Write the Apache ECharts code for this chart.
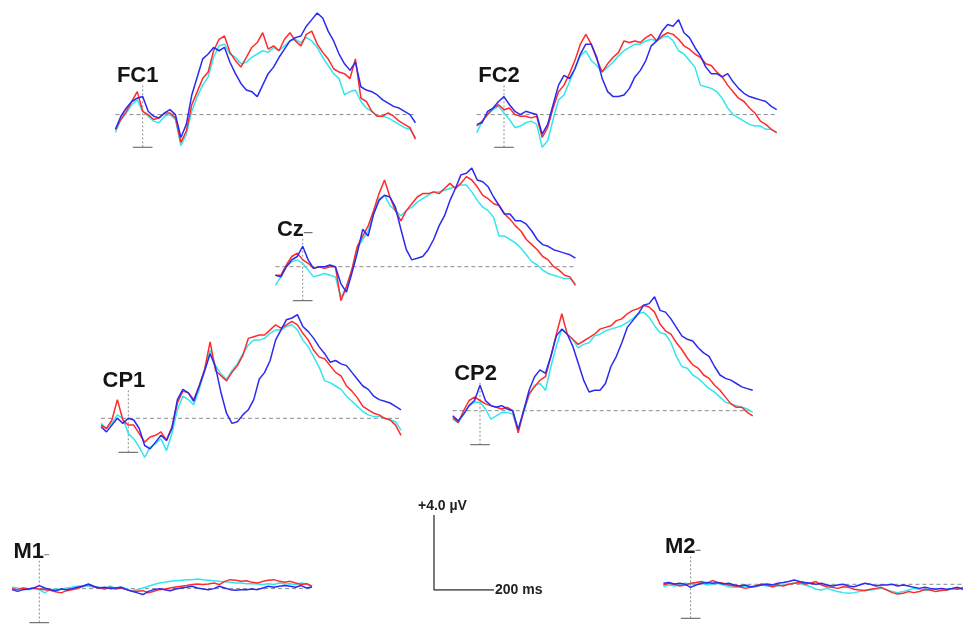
<!DOCTYPE html>
<html><head><meta charset="utf-8">
<script src="https://cdn.jsdelivr.net/npm/echarts@6/dist/echarts.min.js"></script>
<style>html,body{margin:0;padding:0;background:#fff}#c{width:963px;height:631px}</style>
</head><body><div id="c"></div>
<script>
// time points (ms)
const timesMs = [-100,-80,-60,-40,-20,0,20,40,60,80,100,120,140,160,180,200,220,240,260,280,300,320,340,360,380,400,420,440,460,480,500,520,540,560,580,600,620,640,660,680,700,720,740,760,780,800,820,840,860,880,900,920,940,960,980,1000];

// amplitudes (µV)
const fc1Red  = [-0.9,-0.3,0.2,0.8,1.4,0.2,0,-0.3,-0.2,0.1,0.1,-0.2,-1.7,-1.0,0.6,1.4,2.2,2.6,3.9,4.6,4.8,3.8,3.3,2.9,3.5,4.1,4.4,5.0,4.0,4.2,3.9,4.6,5.0,4.5,4.2,4.9,5.1,4.3,3.8,3.4,2.8,2.6,2.5,2.2,3.4,1.0,0.8,0.2,-0.1,-0.1,0.1,-0.1,-0.4,-0.6,-0.8,-1.5];
const fc1Cyan = [-1.1,-0.3,0.1,0.6,0.9,0.2,-0.1,-0.4,-0.5,-0.1,0,-0.3,-1.9,-1.2,0.2,1.1,1.8,2.3,3.5,4.2,4.3,3.7,3.5,3.1,3.2,3.5,3.7,3.9,3.8,4.1,3.9,4.2,4.5,4.6,4.4,4.7,4.5,4.1,3.5,3.0,2.5,2.2,1.2,1.4,1.5,0.8,0.4,0.2,-0.1,-0.1,-0.2,-0.4,-0.6,-0.8,-0.9,-1.4];
const fc1Blue = [-0.9,-0.1,0.4,0.8,1.0,1.1,0.2,-0.1,-0.2,0.1,0.3,0,-1.4,-0.6,1.2,2.3,3.4,3.7,4.1,3.9,4.1,3.2,2.5,1.9,1.5,1.4,1.1,1.8,2.5,2.9,3.5,4.0,4.5,4.7,4.8,5.4,5.8,6.2,5.9,5.1,4.5,3.7,3.1,2.7,3.2,1.7,1.5,1.4,1.2,0.9,0.7,0.5,0.4,0.2,0,-0.5];

const fc2Red  = [-0.7,-0.4,0,0.4,0.6,0.3,0.4,0,-0.1,-0.1,-0.2,-0.1,-1.4,-0.8,0.4,1.4,1.8,2.5,3.3,4.3,4.9,4.3,3.4,2.6,3.1,3.5,3.8,4.5,4.4,4.5,4.4,4.7,4.9,4.5,4.8,5.0,4.9,4.6,4.2,4.0,3.7,3.5,3.1,3.0,2.6,2.3,1.8,1.4,1.0,0.8,0.4,0.1,-0.4,-0.6,-0.9,-1.1];
const fc2Cyan = [-1.1,-0.4,0,0.3,0.5,0.1,-0.3,-0.8,-0.7,-0.5,-0.4,-0.6,-2.0,-1.6,-0.3,0.9,1.2,2.0,2.8,3.6,3.9,3.3,3.0,2.6,2.9,3.2,3.6,3.9,4.1,4.3,4.3,4.5,4.6,4.5,4.7,4.8,4.5,3.9,3.7,3.3,2.9,1.8,1.7,1.6,1.4,1.0,0.4,0,-0.2,-0.4,-0.6,-0.7,-0.7,-0.9,-0.9,-1.1];
const fc2Blue = [-0.6,-0.5,0.2,0.4,0.8,1.1,0.6,0.2,0,0.2,0.1,0,-1.2,-0.6,0.6,1.8,2.4,2.2,2.8,3.7,4.3,4.3,3.5,2.2,1.4,1.1,1.1,1.2,1.6,2.3,2.7,3.3,4.2,4.5,5.1,5.5,5.4,5.8,5.0,4.7,4.1,3.6,2.9,2.5,2.5,2.3,2.5,2.0,1.6,1.3,1.1,1.0,0.9,0.8,0.5,0.3];

const czRed  = [-0.5,-0.5,0.1,0.6,0.8,0.4,0.2,-0.1,0,-0.1,0,0,-2.0,-1.2,-0.2,1.2,1.8,2.4,3.3,4.3,5.1,4.1,3.3,2.7,3.3,3.7,4.1,4.3,4.3,4.4,4.3,4.6,4.9,4.6,4.9,5.3,5.1,4.7,4.2,4.0,3.7,3.6,3.1,2.8,2.4,2.1,1.6,1.3,1.0,0.6,0.4,0,-0.2,-0.5,-0.6,-1.1];
const czCyan = [-1.1,-0.6,0,0.3,0.4,0.2,-0.2,-0.6,-0.5,-0.4,-0.5,-0.6,-1.8,-1.2,-0.2,1.1,1.6,2.1,3.1,4.0,4.2,3.6,3.3,3.0,3.3,3.5,3.8,4.0,4.2,4.4,4.4,4.5,4.6,4.7,4.8,4.8,4.4,3.9,3.5,3.3,2.9,1.8,1.8,1.6,1.4,1.1,0.7,0.3,0.1,-0.2,-0.4,-0.5,-0.6,-0.7,-0.7,-1.0];
const czBlue = [-0.5,-0.6,0,0.4,0.6,1.2,0.4,-0.1,0,0,0.1,0,-1.0,-1.5,-0.4,0.8,2.2,1.8,3.1,3.9,4.2,4.1,3.5,2.2,1.0,0.4,0.5,0.6,1.0,1.6,2.4,3.0,3.9,4.6,5.4,5.5,5.8,5.1,5.0,4.7,4.1,3.6,3.1,3.1,2.7,2.7,2.5,2.1,1.6,1.3,1.2,1.0,0.9,0.8,0.7,0.5];

const cp1Red  = [-0.4,-0.6,-0.1,1.1,-0.1,-0.4,-0.4,-0.9,-1.4,-1.1,-1.0,-0.8,-1.3,-0.5,0.9,1.6,1.5,1.1,1.9,2.9,4.5,2.8,2.5,2.2,2.7,3.1,3.7,4.7,4.8,4.9,4.9,5.2,5.5,5.3,5.5,5.7,5.5,5.0,4.6,4.0,3.6,3.5,3.1,2.7,2.5,1.9,1.6,1.2,0.7,0.5,0.3,0.2,0,-0.1,-0.4,-1.0];
const cp1Cyan = [-0.3,-0.6,-0.3,0.2,0,-0.9,-1.2,-1.7,-2.3,-1.7,-1.5,-1.2,-1.9,-0.9,0.5,1.3,1.1,0.8,1.7,2.8,4.0,3.1,2.6,2.3,2.8,3.2,3.8,4.3,4.6,4.6,4.7,5.0,5.2,5.2,5.4,5.5,5.2,4.6,4.2,3.6,3.0,2.2,2.1,1.9,1.7,1.3,1.0,0.7,0.4,0.2,0.1,0.1,0,-0.1,-0.2,-0.7];
const cp1Blue = [-0.5,-0.8,-0.4,0,-0.3,0,-0.1,-0.6,-1.6,-1.8,-1.4,-1.0,-1.3,-0.6,1.1,1.7,1.5,1.0,1.9,2.8,3.8,3.0,1.5,0.3,-0.3,-0.2,0.2,0.5,1.1,2.3,2.7,3.4,4.6,5.2,5.8,5.9,6.1,5.4,5.1,4.7,4.2,3.8,3.3,3.4,3.2,3.1,2.7,2.3,1.9,1.7,1.3,1.1,1.0,0.9,0.7,0.5];

const cp2Red  = [-0.4,-0.7,0,0.6,0.8,0.6,0.4,0.3,0.2,0.1,0.2,0,-1.3,0,1.0,1.4,1.8,2.0,3.2,4.5,5.7,4.5,4.2,3.9,4.1,4.3,4.5,4.8,4.9,5.0,5.3,5.4,5.7,5.9,6.0,6.2,6.1,5.8,5.1,4.7,4.5,4.0,3.6,3.1,2.7,2.5,2.1,1.9,1.5,1.2,0.8,0.4,0.2,0.2,-0.1,-0.3];
const cp2Cyan = [-0.5,-0.7,-0.2,0.3,0.5,0.5,0.1,-0.5,-0.3,-0.1,-0.1,-0.2,-1.2,-0.1,0.9,1.5,1.6,1.2,2.6,3.8,4.8,4.5,4.2,3.7,3.9,4.0,4.4,4.5,4.7,4.8,4.9,5.0,5.2,5.4,5.7,5.8,5.5,5.0,4.6,4.5,4.0,3.2,2.6,2.5,2.1,1.9,1.6,1.3,1.1,0.8,0.5,0.4,0.3,0.2,0.1,-0.1];
const cp2Blue = [-0.3,-0.6,-0.2,0.3,0.6,1.5,0.6,0.3,0.2,0.3,0.1,0,-1.1,0,1.2,2.0,2.4,2.2,3.2,4.4,4.8,4.5,3.8,2.8,1.8,1.1,1.2,1.2,1.6,2.6,3.2,4.0,4.9,5.3,5.7,6.2,6.3,6.7,5.9,5.8,5.4,4.9,4.4,4.2,4.1,3.7,3.4,3.2,2.6,2.1,1.9,1.8,1.6,1.4,1.3,1.2];

const m1Red  = [0,-0.06,0.04,0,0.04,-0.02,-0.06,-0.1,-0.18,-0.25,-0.12,-0.06,0,0.14,0.24,0.1,0.04,-0.02,0.08,-0.02,0.04,-0.06,-0.16,-0.16,-0.12,-0.25,-0.16,-0.06,-0.02,0.04,0.1,0.14,0.18,0.24,0.27,0.24,0.27,0.33,0.24,0.43,0.53,0.49,0.43,0.47,0.37,0.33,0.43,0.49,0.53,0.43,0.37,0.43,0.33,0.24,0.29,0.14];
const m1Cyan = [0.08,0.04,-0.02,-0.06,0,-0.06,-0.25,-0.06,-0.02,-0.06,0.04,0.08,0.14,0.18,0.14,0.1,0.08,0.04,0.14,0.04,0.1,-0.02,-0.12,-0.06,0.04,0.14,0.24,0.33,0.37,0.43,0.47,0.49,0.53,0.53,0.57,0.53,0.5,0.47,0.43,0.4,0.37,0.33,0.33,0.29,0.29,0.27,0.24,0.29,0.24,0.33,0.27,0.29,0.24,0.33,0.29,0.14];
const m1Blue = [-0.06,-0.16,-0.06,-0.02,0.04,0.18,0.04,-0.06,-0.12,-0.02,-0.06,0,0.08,0.14,0.27,0.14,0.04,0.08,0,0.04,0.08,-0.06,-0.16,-0.25,-0.35,-0.16,-0.06,0,-0.06,-0.12,-0.02,0.04,0.08,0.14,0.04,-0.02,-0.06,0,0.14,0.04,-0.06,-0.1,-0.06,-0.06,-0.02,-0.06,0.04,0.14,0.08,0.14,0.18,0.14,0.08,0.18,0.04,0.1];

const m2Red  = [-0.04,0.06,0,-0.1,-0.04,0.06,0.1,0.16,0.06,0.22,0.1,0.06,-0.04,-0.1,-0.14,-0.24,-0.18,-0.1,0.02,-0.04,-0.14,-0.04,-0.1,0,0.06,0.1,0.02,0.06,0.16,-0.04,-0.14,-0.18,-0.24,-0.14,-0.18,-0.29,-0.33,-0.37,-0.29,-0.24,-0.18,-0.33,-0.49,-0.57,-0.53,-0.43,-0.49,-0.43,-0.29,-0.33,-0.43,-0.37,-0.33,-0.24,-0.29,-0.18];
const m2Cyan = [-0.14,-0.04,-0.1,-0.04,0.06,0,0.1,0.06,-0.04,0.02,0.06,-0.04,-0.14,-0.18,-0.14,-0.1,-0.18,-0.14,-0.04,-0.1,-0.14,-0.1,-0.04,0.02,0.06,0.06,-0.04,-0.14,-0.29,-0.33,-0.24,-0.33,-0.43,-0.49,-0.53,-0.49,-0.43,-0.37,-0.33,-0.29,-0.24,-0.33,-0.43,-0.49,-0.43,-0.33,-0.24,-0.29,-0.37,-0.33,-0.24,-0.29,-0.33,-0.29,-0.24,-0.29];
const m2Blue = [0.06,0.1,0.02,0.06,0,-0.18,-0.04,0.06,0.1,0.06,0.1,0.02,0.06,-0.04,-0.1,-0.04,-0.14,-0.1,-0.04,0.02,-0.04,0.06,0.1,0.16,0.25,0.16,0.1,0.06,0,0.06,-0.04,-0.1,-0.04,0,-0.1,-0.14,-0.04,0.06,0,-0.1,-0.04,-0.04,0,-0.1,-0.04,-0.1,-0.18,-0.24,-0.18,-0.24,-0.29,-0.24,-0.29,-0.24,-0.18,-0.29];

const electrodeNames = ['FC1','FC2','Cz','CP1','CP2','M1','M2'];
const electrodeData = {
  FC1:[fc1Cyan,fc1Red,fc1Blue], FC2:[fc2Cyan,fc2Red,fc2Blue], Cz:[czCyan,czRed,czBlue],
  CP1:[cp1Cyan,cp1Red,cp1Blue], CP2:[cp2Cyan,cp2Red,cp2Blue], M1:[m1Cyan,m1Red,m1Blue], M2:[m2Cyan,m2Red,m2Blue]
};
const axisMarkUV = [-2, 2];     // onset axis extent
const axisTickHalfMs = 36;      // half-length of axis end ticks
const scaleBarUV = 4.0, scaleBarMs = 200;
const scaleLabels = ['+4.0 µV', '200 ms'];

// ---------- layout (pixels) ----------
const layout = { FC1:[142.7,113], FC2:[504,113], Cz:[302.7,266.7], CP1:[128.3,418.3], CP2:[480,410.7], M1:[39.3,589], M2:[690.7,584.3] };
const X_MIN = -100, X_MAX = 1000, PANEL_W = 300, PX_PER_UV = 17, Y_MIN = -2.5, Y_MAX = 7;
const pxPerMs = PANEL_W / (X_MAX - X_MIN);
const colors = ['#33e6ee', '#ff2b2b', '#2b2bf0'];
const gray = '#8a8a8a';

const grid = [], xAxis = [], yAxis = [], series = [], graphic = [];
electrodeNames.forEach((name, i) => {
  const [ox, oy] = layout[name];
  const left = ox + X_MIN * pxPerMs;
  grid.push({ left: left, top: oy - Y_MAX * PX_PER_UV, width: PANEL_W, height: (Y_MAX - Y_MIN) * PX_PER_UV, containLabel: false });
  xAxis.push({ gridIndex: i, type: 'value', min: X_MIN, max: X_MAX, show: false });
  yAxis.push({ gridIndex: i, type: 'value', min: Y_MIN, max: Y_MAX, show: false });
  const base = { xAxisIndex: i, yAxisIndex: i, type: 'line', symbol: 'none', silent: true, animation: false };
  series.push(Object.assign({}, base, { data: [[X_MIN, 0], [X_MAX, 0]], lineStyle: { color: gray, width: 1, type: [4, 3] }, z: 1 }));
  series.push(Object.assign({}, base, { data: [[0, axisMarkUV[0]], [0, axisMarkUV[1]]], lineStyle: { color: gray, width: 1, type: [2, 2] }, z: 1 }));
  axisMarkUV.forEach(v => {
    series.push(Object.assign({}, base, { data: [[-axisTickHalfMs, v], [axisTickHalfMs, v]], lineStyle: { color: '#777', width: 1.2 }, z: 1 }));
  });
  electrodeData[name].forEach((arr, k) => {
    series.push(Object.assign({}, base, { data: timesMs.map((t, j) => [t, arr[j]]), lineStyle: { color: colors[k], width: 1.5 }, z: 2 + k }));
  });
  graphic.push({ type: 'text', x: left + 1.5, y: oy - 37, z: 100,
    style: { text: name, font: 'bold 22px "Liberation Sans", Arial, sans-serif', fill: '#151515', verticalAlign: 'middle', backgroundColor: '#fff', lineHeight: 17 } });
});

// scale bar
const si = electrodeNames.length;
grid.push({ left: 434, top: 515, width: 60, height: 75 });
xAxis.push({ gridIndex: si, type: 'value', min: 0, max: scaleBarMs, show: false });
yAxis.push({ gridIndex: si, type: 'value', min: 0, max: scaleBarUV, show: false });
series.push({ xAxisIndex: si, yAxisIndex: si, type: 'line', symbol: 'none', silent: true, animation: false,
  data: [[0, scaleBarUV], [0, 0], [scaleBarMs, 0]], lineStyle: { color: '#333', width: 1.3 } });
graphic.push({ type: 'text', x: 418, y: 506, style: { text: scaleLabels[0], font: 'bold 14px "Liberation Sans", Arial, sans-serif', fill: '#222', verticalAlign: 'middle' } });
graphic.push({ type: 'text', x: 495, y: 590, style: { text: scaleLabels[1], font: 'bold 14px "Liberation Sans", Arial, sans-serif', fill: '#222', verticalAlign: 'middle' } });

const chart = echarts.init(document.getElementById('c'), null, { renderer: 'canvas' });
chart.setOption({ backgroundColor: '#fff', animation: false, grid, xAxis, yAxis, series, graphic });
</script></body></html>
